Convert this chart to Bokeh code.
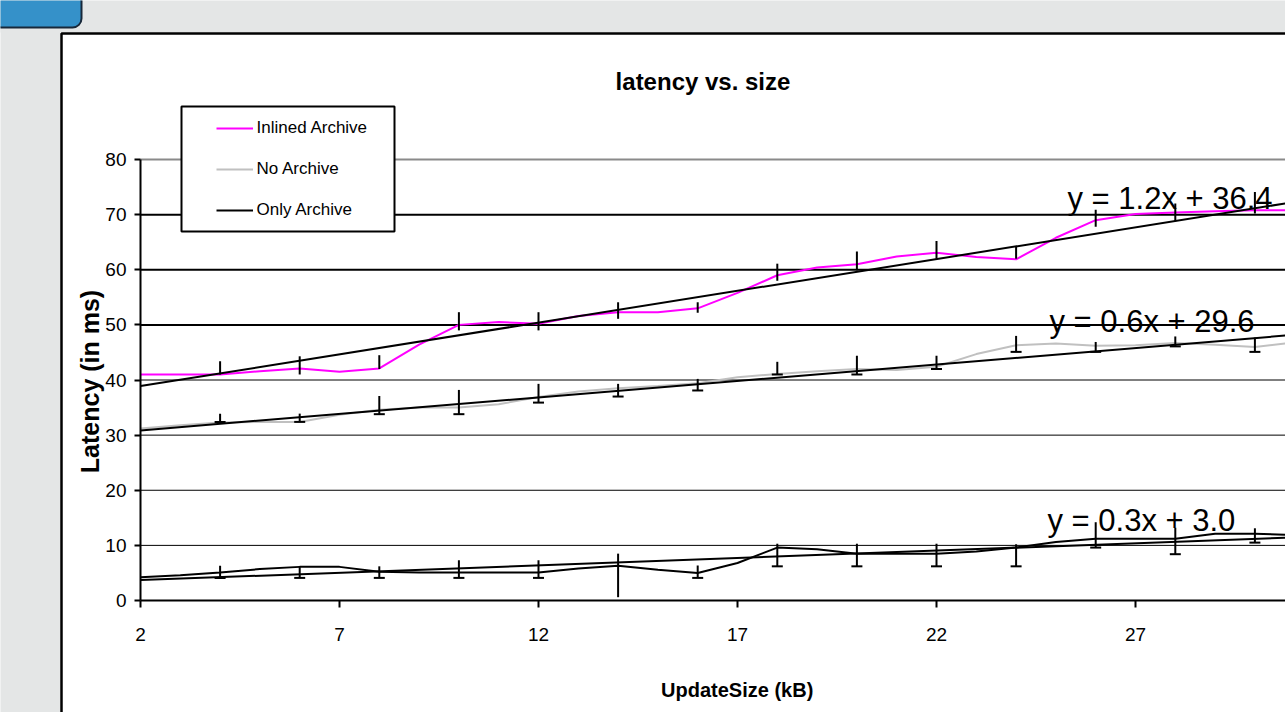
import math
from bokeh.plotting import figure
from bokeh.models import Range1d, FixedTicker, BoxAnnotation, Label, Legend, LegendItem
from bokeh.embed import file_html
from bokeh.resources import INLINE

# ---------------- data ----------------
x_kb = list(range(2, 32))
inlined = [41.0, 41.0, 41.0, 41.6, 42.1, 41.5, 42.1, 46.4, 50.0, 50.5, 50.2, 51.6, 52.3, 52.3, 53.0,
           55.8, 59.0, 60.4, 61.0, 62.4, 63.1, 62.3, 61.9, 65.8, 69.0, 70.1, 70.4, 70.6, 70.8, 70.8]
no_archive = [31.2, 31.8, 32.3, 32.4, 32.4, 33.7, 34.6, 35.0, 35.0, 35.6, 36.9, 37.9, 38.5, 38.9, 39.4,
              40.5, 41.1, 41.6, 42.0, 41.8, 42.4, 44.7, 46.3, 46.6, 46.2, 46.3, 46.7, 46.4, 46.0, 46.8]
only_archive = [4.2, 4.6, 5.1, 5.7, 6.1, 6.1, 5.2, 5.1, 5.1, 5.1, 5.1, 5.8, 6.3, 5.6, 5.0,
                6.8, 9.6, 9.3, 8.5, 8.5, 8.5, 8.9, 9.6, 10.6, 11.2, 11.2, 11.2, 12.1, 12.1, 11.9]

err_x = [4, 6, 8, 10, 12, 14, 16, 18, 20, 22, 24, 26, 28, 30]
inl_hi = [43.4, 44.3, 44.5, 52.3, 52.3, 54.1, 54.1, 61.1, 63.3, 65.2, 64.3, 70.9, 72.0, 74.1]
inl_lo = [41.0, 41.0, 42.0, 49.0, 49.0, 51.1, 52.2, 58.0, 59.9, 62.0, 62.0, 67.8, 68.8, 70.2]
no_hi = [33.9, 33.9, 37.1, 38.2, 39.3, 39.3, 40.2, 43.3, 44.4, 44.4, 48.0, 46.9, 47.9, 47.7]
no_lo = [32.4, 32.4, 33.8, 33.8, 35.9, 37.0, 38.1, 41.0, 41.0, 42.0, 45.1, 45.1, 46.1, 45.1]
only_hi = [6.3, 6.2, 6.2, 7.3, 7.3, 8.5, 6.35, 10.3, 10.3, 10.3, 10.2, 14.2, 13.2, 13.1]
only_lo = [4.1, 4.1, 4.1, 4.1, 4.1, 0.6, 4.1, 6.2, 6.2, 6.2, 6.2, 9.6, 8.4, 10.5]

trend_x = [2, 31]
trend_inlined = [38.9, 72.3]
trend_no = [30.85, 48.2]
trend_only = [3.7, 11.45]

series_names = ["Inlined Archive", "No Archive", "Only Archive"]
equations = ["y = 1.2x + 36.4", "y = 0.6x + 29.6", "y = 0.3x + 3.0"]
x_ticks = [2, 7, 12, 17, 22, 27]
y_ticks = [0, 10, 20, 30, 40, 50, 60, 70, 80]

# ---------------- layout helpers (page pixels -> data) ----------------
W, H = 1285, 712
AX_L, AX_B, AX_T = 140, 600, 159        # plot-area edges in page pixels
PXX = 39.8                              # pixels per kB
PXY = (AX_B - AX_T) / 80.0              # pixels per ms


def sx(px):
    return 2 + (px - AX_L) / PXX


def sy(py):
    return (AX_B - py) / PXY


X_END = sx(W)
FONT = "Liberation Sans, Arial, sans-serif"

p = figure(width=W, height=H, output_backend="svg", toolbar_location=None,
           x_range=Range1d(sx(0), sx(W)), y_range=Range1d(sy(H), sy(0)),
           min_border=0, min_border_left=0, min_border_right=0,
           min_border_top=0, min_border_bottom=0)
p.border_fill_color = "white"
p.background_fill_color = "white"
p.outline_line_color = None
p.xgrid.grid_line_color = None
p.ygrid.grid_line_color = None

# page background (slide) pieces, all outside the chart area
p.add_layout(BoxAnnotation(left=sx(-5), right=sx(60), top=sy(-5), bottom=sy(H + 5),
                           fill_color="#e4e6e6", fill_alpha=1, line_alpha=0))
p.add_layout(BoxAnnotation(left=sx(-5), right=sx(W + 5), top=sy(-5), bottom=sy(32),
                           fill_color="#e4e6e6", fill_alpha=1, line_alpha=0))
p.add_layout(BoxAnnotation(left=sx(61), right=sx(W + 40), top=sy(33), bottom=sy(H + 40),
                           fill_alpha=0, line_color="black", line_alpha=1, line_width=2.5))
p.add_layout(BoxAnnotation(left=sx(-20), right=sx(81), top=sy(-20), bottom=sy(27),
                           fill_color="#3591c9", fill_alpha=1, line_color="#17283a",
                           line_alpha=1, line_width=2, border_radius=9))

# horizontal grid lines across the plot area
g_thin = [t for t in y_ticks if 0 < t <= 40]
g_bold = [t for t in y_ticks if 40 < t < 80]
g_top = [t for t in y_ticks if t == 80]
for ticks, col, lw in ((g_thin, "black", 1), (g_bold, "black", 2), (g_top, "#8a8a8a", 2)):
    p.segment(x0=[2] * len(ticks), y0=ticks, x1=[X_END] * len(ticks), y1=ticks,
              line_color=col, line_width=lw)

# axes (fixed inside the canvas-wide frame)
p.xaxis.ticker = FixedTicker(ticks=x_ticks)
p.yaxis.ticker = FixedTicker(ticks=y_ticks)
p.xaxis.fixed_location = 0
p.yaxis.fixed_location = 2
p.xaxis.bounds = (2, X_END)
p.yaxis.bounds = (0, 80)
for ax in (p.xaxis[0], p.yaxis[0]):
    ax.axis_line_color = "black"
    ax.axis_line_width = 2
    ax.major_tick_line_color = "black"
    ax.major_tick_line_width = 2
    ax.major_tick_in = 0
    ax.minor_tick_line_color = None
    ax.major_label_text_font = FONT
    ax.major_label_text_font_size = "19px"
    ax.major_label_text_color = "black"
p.xaxis.major_tick_out = 7
p.xaxis.major_label_standoff = 20
p.yaxis.major_tick_out = 6
p.yaxis.major_label_standoff = 8

# series
r_inl = p.line(x_kb, inlined, line_color="#ff00ff", line_width=2)
r_no = p.line(x_kb, no_archive, line_color="#c0c0c0", line_width=2)
r_only = p.line(x_kb, only_archive, line_color="black", line_width=2)

# linear trend lines
for tv in (trend_inlined, trend_no, trend_only):
    p.line(trend_x, tv, line_color="black", line_width=2)

# error bars
for hi, lo in ((inl_hi, inl_lo), (no_hi, no_lo), (only_hi, only_lo)):
    p.segment(x0=err_x, y0=lo, x1=err_x, y1=hi, line_color="black", line_width=2)
for lo in (no_lo, only_lo):
    cx = [x for x, v in zip(err_x, lo) if v >= 1]
    cy = [v for v in lo if v >= 1]
    p.scatter(cx, cy, marker="dash", size=11, line_color="black", line_width=2)

# legend box + legend
p.add_layout(BoxAnnotation(left=sx(181), right=sx(394), top=sy(106), bottom=sy(231),
                           fill_color="white", fill_alpha=1, line_color="black",
                           line_alpha=1, line_width=2))
legend = Legend(items=[LegendItem(label=series_names[0], renderers=[r_inl]),
                       LegendItem(label=series_names[1], renderers=[r_no]),
                       LegendItem(label=series_names[2], renderers=[r_only])],
                location=(215.5, H - 220), padding=0, margin=0,
                spacing=21, glyph_width=37, glyph_height=20, label_height=20,
                label_standoff=4, label_text_font=FONT, label_text_font_size="17px",
                label_text_color="black", border_line_color=None, background_fill_alpha=0)
p.add_layout(legend)

# texts
p.add_layout(Label(x=sx(702.5), y=sy(81), text="latency vs. size", text_align="center",
                   text_baseline="alphabetic", text_font=FONT, text_font_style="bold",
                   text_font_size="24px", text_color="black"))
p.add_layout(Label(x=sx(736.7), y=sy(689), text="UpdateSize (kB)", text_align="center",
                   text_baseline="alphabetic", text_font=FONT, text_font_style="bold",
                   text_font_size="20px", text_color="black"))
p.add_layout(Label(x=sx(89), y=sy(381), text="Latency (in ms)", text_align="center",
                   text_baseline="middle", angle=math.pi / 2, text_font=FONT,
                   text_font_style="bold", text_font_size="25px", text_color="black"))
for eq, ex, ey in zip(equations, (1067, 1049, 1047), (198, 321, 520)):
    p.add_layout(Label(x=sx(ex), y=sy(ey), text=eq, text_align="left",
                       text_baseline="alphabetic", text_font=FONT,
                       text_font_size="31px", text_color="black"))

open("out.html", "w").write(file_html(p, INLINE))
